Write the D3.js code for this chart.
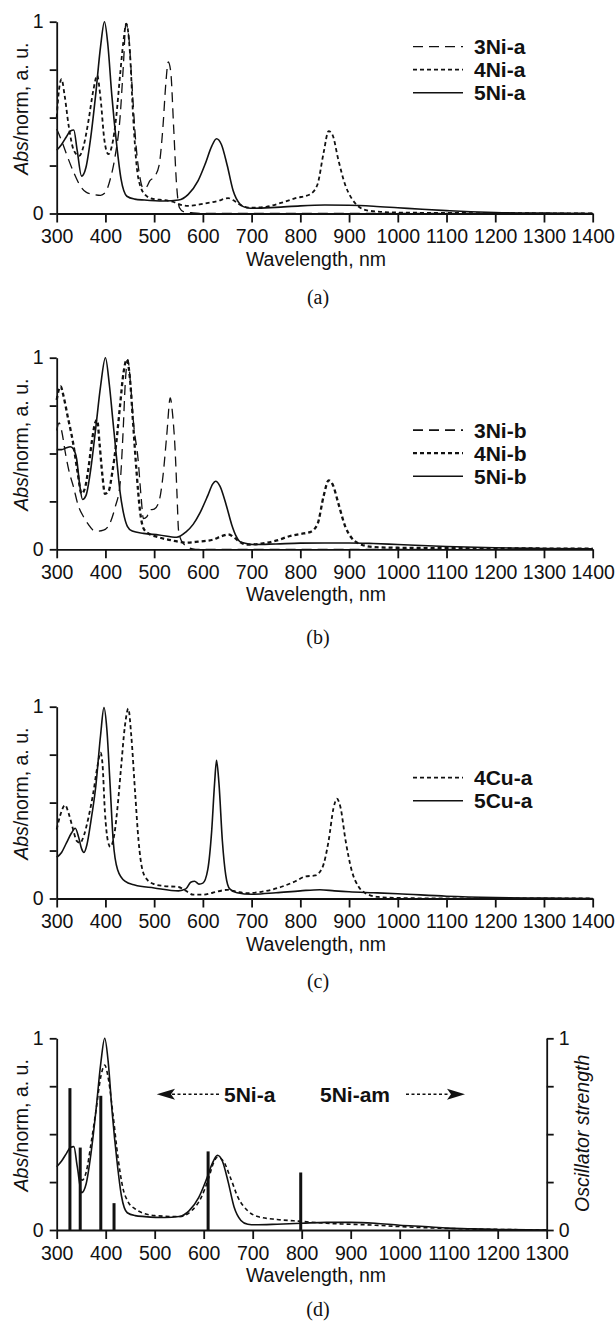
<!DOCTYPE html>
<html><head><meta charset="utf-8">
<script src="https://cdn.jsdelivr.net/npm/d3@7"></script>
<style>
html,body{margin:0;padding:0;background:#fff;}
svg text{font-family:"Liberation Sans",Arial,Helvetica,sans-serif;fill:#111;}
</style></head>
<body>
<svg id="fig" width="616" height="1324"></svg>
<script>
// ---------- DATA ----------
const xTicksWide = [300,400,500,600,700,800,900,1000,1100,1200,1300,1400];
const xTicksD = [300,400,500,600,700,800,900,1000,1100,1200,1300];
const yTicks = [0,0.25,0.5,0.75,1];
const yTickLabels = {0:"0",1:"1"};

// Panel (a)
const ni3a = [[300,0.44],[310,0.38],[320,0.31],[334,0.22],[347,0.15],[361,0.11],[375,0.10],[390,0.095],[400,0.11],[410,0.18],[420,0.30],[430,0.5],[437,0.78],[442,0.99],[448,0.92],[455,0.65],[462,0.38],[470,0.2],[478,0.13],[485,0.14],[491,0.17],[500,0.19],[510,0.25],[518,0.45],[524,0.68],[529,0.79],[534,0.74],[540,0.45],[546,0.15],[552,0.03],[560,0.01],[580,0.003],[600,0],[1400,0]];
const ni4a = [[300,0.5],[305,0.65],[310,0.70],[316,0.62],[325,0.45],[335,0.33],[346,0.30],[355,0.35],[365,0.48],[375,0.64],[383,0.72],[390,0.6],[398,0.38],[406,0.31],[414,0.36],[422,0.5],[430,0.72],[437,0.9],[443,0.99],[450,0.85],[457,0.5],[464,0.25],[472,0.14],[485,0.09],[500,0.075],[520,0.07],[540,0.06],[555,0.045],[570,0.04],[600,0.05],[630,0.065],[652,0.08],[665,0.065],[680,0.04],[700,0.03],[730,0.035],[760,0.055],[790,0.08],[820,0.10],[835,0.15],[848,0.32],[858,0.43],[866,0.41],[878,0.28],[892,0.15],[905,0.08],[920,0.035],[940,0.015],[970,0.008],[1000,0.005],[1100,0.003],[1200,0.002],[1400,0]];
const ni5a = [[300,0.33],[310,0.36],[320,0.40],[328,0.43],[335,0.435],[342,0.33],[351,0.195],[360,0.24],[370,0.40],[380,0.62],[390,0.87],[398,1.0],[405,0.88],[413,0.62],[423,0.36],[432,0.18],[444,0.09],[460,0.075],[480,0.07],[520,0.065],[550,0.07],[570,0.10],[590,0.17],[605,0.26],[618,0.35],[628,0.39],[638,0.36],[650,0.25],[662,0.12],[676,0.05],[690,0.03],[705,0.027],[750,0.032],[800,0.04],[850,0.044],[900,0.043],[950,0.038],[1000,0.03],[1050,0.022],[1100,0.015],[1150,0.009],[1200,0.005],[1300,0.002],[1400,0]];

// Panel (b)
const ni3b = [[300,0.62],[305,0.66],[310,0.62],[318,0.5],[326,0.4],[334,0.33],[344,0.23],[355,0.17],[365,0.13],[375,0.10],[385,0.095],[396,0.10],[409,0.135],[420,0.22],[430,0.34],[436,0.6],[441,0.88],[446,0.99],[451,0.88],[458,0.65],[467,0.47],[473,0.28],[478,0.16],[485,0.17],[491,0.205],[500,0.21],[510,0.25],[518,0.38],[526,0.6],[533,0.79],[538,0.7],[543,0.52],[547,0.28],[550,0.10],[555,0.05],[560,0.03],[570,0.01],[585,0],[1400,0]];
const ni4b = [[300,0.78],[304,0.83],[308,0.85],[314,0.80],[322,0.7],[334,0.55],[343,0.40],[351,0.29],[358,0.32],[365,0.42],[372,0.56],[379,0.66],[383,0.675],[388,0.55],[394,0.38],[399,0.29],[406,0.30],[414,0.40],[422,0.55],[430,0.75],[437,0.92],[444,0.99],[450,0.9],[457,0.65],[464,0.40],[471,0.2],[478,0.11],[490,0.08],[505,0.066],[539,0.045],[565,0.035],[590,0.04],[620,0.05],[640,0.07],[652,0.078],[665,0.06],[678,0.035],[690,0.024],[720,0.03],[750,0.045],[780,0.07],[800,0.08],[820,0.09],[835,0.13],[848,0.28],[858,0.36],[866,0.34],[878,0.24],[892,0.12],[905,0.06],[920,0.03],[950,0.012],[1000,0.008],[1100,0.006],[1200,0.005],[1300,0.004],[1400,0.003]];
const ni5b = [[300,0.52],[310,0.52],[320,0.53],[328,0.535],[335,0.52],[341,0.47],[347,0.34],[353,0.26],[360,0.28],[370,0.42],[380,0.63],[390,0.85],[400,1.0],[408,0.86],[415,0.68],[422,0.5],[430,0.3],[437,0.19],[445,0.12],[455,0.095],[478,0.083],[510,0.075],[546,0.063],[565,0.09],[580,0.13],[594,0.19],[610,0.28],[620,0.34],[626,0.355],[635,0.33],[648,0.23],[659,0.13],[668,0.07],[676,0.04],[690,0.03],[703,0.025],[750,0.028],[800,0.032],[850,0.033],[900,0.033],[950,0.03],[1000,0.025],[1100,0.015],[1200,0.008],[1300,0.004],[1400,0.002]];

// Panel (c)
const cu4a = [[300,0.36],[308,0.44],[317,0.487],[325,0.44],[334,0.357],[341,0.3],[348,0.29],[356,0.33],[365,0.42],[375,0.55],[383,0.68],[390,0.76],[394,0.7],[399,0.45],[405,0.3],[410,0.27],[418,0.33],[425,0.48],[432,0.68],[440,0.9],[447,0.99],[453,0.85],[461,0.55],[468,0.3],[475,0.16],[485,0.1],[500,0.075],[520,0.065],[550,0.06],[565,0.04],[580,0.02],[600,0.02],[620,0.03],[650,0.045],[670,0.035],[690,0.028],[720,0.035],[760,0.06],[790,0.09],[810,0.115],[830,0.12],[845,0.16],[858,0.3],[868,0.47],[875,0.52],[882,0.48],[893,0.3],[905,0.15],[920,0.06],[940,0.02],[960,0.008],[1000,0.003],[1100,0],[1400,0]];
const cu5a = [[300,0.215],[310,0.24],[320,0.29],[330,0.34],[338,0.366],[345,0.32],[351,0.26],[356,0.24],[362,0.28],[370,0.40],[380,0.58],[390,0.85],[397,0.995],[403,0.88],[409,0.62],[416,0.30],[425,0.15],[440,0.09],[460,0.07],[500,0.055],[550,0.04],[565,0.05],[575,0.085],[583,0.09],[592,0.075],[600,0.08],[610,0.15],[618,0.35],[624,0.6],[628,0.72],[633,0.6],[640,0.3],[647,0.12],[655,0.05],[670,0.03],[700,0.022],[750,0.03],[800,0.04],[840,0.046],[870,0.04],[900,0.035],[950,0.03],[1000,0.025],[1100,0.012],[1200,0.005],[1300,0.002],[1400,0]];

// Panel (d)
const ni5aD = [[300,0.33],[310,0.36],[320,0.40],[328,0.43],[335,0.435],[342,0.33],[351,0.195],[360,0.24],[370,0.40],[380,0.62],[390,0.87],[398,1.0],[405,0.88],[413,0.62],[423,0.36],[432,0.18],[444,0.09],[460,0.075],[480,0.07],[520,0.065],[550,0.07],[570,0.10],[590,0.17],[605,0.26],[618,0.35],[628,0.39],[638,0.36],[650,0.25],[662,0.12],[676,0.05],[690,0.03],[705,0.027],[750,0.03],[800,0.035],[850,0.04],[900,0.04],[950,0.035],[1000,0.025],[1050,0.018],[1100,0.01],[1150,0.006],[1200,0.003],[1300,0]];
const ni5amD = [[345,0.3],[352,0.26],[360,0.3],[370,0.45],[380,0.62],[390,0.8],[398,0.86],[406,0.78],[415,0.6],[425,0.38],[435,0.22],[445,0.15],[460,0.11],[480,0.085],[500,0.075],[550,0.07],[575,0.1],[595,0.17],[610,0.27],[620,0.35],[628,0.38],[640,0.36],[655,0.27],[670,0.17],[690,0.1],[710,0.07],[750,0.055],[800,0.045],[850,0.035],[900,0.03],[950,0.025],[1000,0.018],[1050,0.012],[1100,0.008],[1200,0.003],[1300,0]];
const oscWl = [327,348,390,417,609,798];
const oscF  = [0.74,0.43,0.70,0.14,0.41,0.30];

const legendA = ["3Ni-a","4Ni-a","5Ni-a"];
const legendB = ["3Ni-b","4Ni-b","5Ni-b"];
const legendC = ["4Cu-a","5Cu-a"];
const panelLabels = ["(a)","(b)","(c)","(d)"];

// ---------- STYLES ----------
const STY = {
  long:  {dash:"10,6", w:1.3},
  short: {dash:"4,3",  w:1.8},
  solid: {dash:null,   w:1.6}
};
const FS = 19.5;
const FSL = 21;

const svg = d3.select("#fig");
const X0 = 56.7;

function styleAxis(a){
  a.select(".domain").attr("stroke","#111").attr("stroke-width",1.8);
  a.selectAll(".tick line").attr("stroke","#111").attr("stroke-width",1.8);
  a.selectAll("text").attr("font-size",FS).attr("font-family","Liberation Sans, Arial, sans-serif").attr("fill","#111");
}

function drawPanel(cfg){
  const g = svg.append("g");
  const x = d3.scaleLinear().domain([300,cfg.xmax]).range([X0,cfg.right]);
  const y = d3.scaleLinear().domain([0,1]).range([cfg.bottom,cfg.top]);
  const line = d3.line().x(d=>x(d[0])).y(d=>y(d[1])).curve(d3.curveMonotoneX);

  if(cfg.bars){
    const yr = d3.scaleLinear().domain([0,1]).range([cfg.bottom,cfg.top]);
    g.selectAll("rect.osc").data(cfg.bars).enter().append("rect")
      .attr("x",d=>x(d[0])-1.5).attr("width",3)
      .attr("y",d=>yr(d[1])).attr("height",d=>cfg.bottom-yr(d[1]))
      .attr("fill","#111");
  }

  cfg.series.forEach(s=>{
    const st = STY[s.style];
    g.append("path").datum(s.data).attr("d",line)
      .attr("fill","none").attr("stroke","#111")
      .attr("stroke-width",s.w||st.w)
      .attr("stroke-dasharray",st.dash)
      .attr("stroke-linejoin","round");
  });

  const xa = g.append("g").attr("transform",`translate(0,${cfg.bottom})`)
    .call(d3.axisBottom(x).tickValues(cfg.ticks).tickSize(9).tickSizeOuter(0).tickPadding(7).tickFormat(d3.format("d")));
  styleAxis(xa);

  const ya = g.append("g").attr("transform",`translate(${X0},0)`)
    .call(d3.axisLeft(y).tickValues(yTicks).tickSize(7).tickSizeOuter(0).tickPadding(6).tickFormat(d=>yTickLabels[d]||""));
  styleAxis(ya);

  if(cfg.rightAxis){
    const yr = d3.scaleLinear().domain([0,1]).range([cfg.bottom,cfg.top]);
    const ra = g.append("g").attr("transform",`translate(${cfg.right},0)`)
      .call(d3.axisRight(yr).tickValues(yTicks).tickSize(7).tickSizeOuter(0).tickPadding(5).tickFormat(d=>yTickLabels[d]||""));
    styleAxis(ra);
    g.append("text").attr("transform",`translate(589,${cfg.top+95}) rotate(-90)`)
      .attr("text-anchor","middle").attr("font-size",FS).attr("font-style","italic").text("Oscillator strength");
  }

  const yl = g.append("text").attr("transform",`translate(28,${cfg.top+87}) rotate(-90)`)
    .attr("text-anchor","middle").attr("font-size",FS);
  yl.append("tspan").attr("font-style","italic").text("Abs");
  yl.append("tspan").text("/norm, a. u.");

  g.append("text").attr("x",316).attr("y",cfg.bottom+52).attr("text-anchor","middle")
    .attr("font-size",FS).text("Wavelength, nm");
  g.append("text").attr("x",318).attr("y",cfg.bottom+cfg.labelOff).attr("text-anchor","middle")
    .attr("font-size",20).style("font-family","'Liberation Serif','Times New Roman',serif").text(cfg.label);

  if(cfg.legend){
    cfg.legend.forEach((L,i)=>{
      const st = STY[L.style];
      const ly = cfg.top + cfg.legendTop + i*23;
      g.append("line").attr("x1",413).attr("x2",463).attr("y1",ly).attr("y2",ly)
        .attr("stroke","#111").attr("stroke-width",L.w||st.w).attr("stroke-dasharray",st.dash);
      g.append("text").attr("x",474).attr("y",ly+7.5).attr("font-size",FSL).attr("font-weight","bold").text(L.name);
    });
  }
  return {g,x,y};
}

drawPanel({top:21.7,bottom:213.5,xmax:1400,right:592.7,ticks:xTicksWide,label:panelLabels[0],labelOff:90,
  series:[{data:ni3a,style:"long"},{data:ni4a,style:"short"},{data:ni5a,style:"solid"}],
  legend:[{name:legendA[0],style:"long"},{name:legendA[1],style:"short"},{name:legendA[2],style:"solid"}],legendTop:25});

drawPanel({top:357.7,bottom:549.3,xmax:1400,right:592.7,ticks:xTicksWide,label:panelLabels[1],labelOff:95,
  series:[{data:ni3b,style:"long"},{data:ni4b,style:"short",w:2.3},{data:ni5b,style:"solid"}],
  legend:[{name:legendB[0],style:"long",w:1.8},{name:legendB[1],style:"short",w:2.3},{name:legendB[2],style:"solid"}],legendTop:72.5});

drawPanel({top:706.7,bottom:898.5,xmax:1400,right:592.7,ticks:xTicksWide,label:panelLabels[2],labelOff:89,
  series:[{data:cu4a,style:"short"},{data:cu5a,style:"solid"}],
  legend:[{name:legendC[0],style:"short"},{name:legendC[1],style:"solid"}],legendTop:71});

const pd = drawPanel({top:1038.3,bottom:1230,xmax:1300,right:546.7,ticks:xTicksD,label:panelLabels[3],labelOff:86,
  series:[{data:ni5amD,style:"short",w:1.6},{data:ni5aD,style:"solid"}],
  bars:oscWl.map((w,i)=>[w,oscF[i]]), rightAxis:true});

(function(){
  const g = pd.g, ay = 1094.3;
  g.append("line").attr("x1",172).attr("x2",219).attr("y1",ay).attr("y2",ay)
    .attr("stroke","#111").attr("stroke-width",1.6).attr("stroke-dasharray","3,2.5");
  g.append("path").attr("d",`M156.7,${ay} L175,${ay-5.5} L171,${ay} L175,${ay+5.5} Z`).attr("fill","#111");
  g.append("text").attr("x",224).attr("y",ay+7.5).attr("font-size",FSL).attr("font-weight","bold").text("5Ni-a");
  g.append("text").attr("x",320).attr("y",ay+7.5).attr("font-size",FSL).attr("font-weight","bold").text("5Ni-am");
  g.append("line").attr("x1",406).attr("x2",450).attr("y1",ay).attr("y2",ay)
    .attr("stroke","#111").attr("stroke-width",1.6).attr("stroke-dasharray","3,2.5");
  g.append("path").attr("d",`M465,${ay} L447,${ay-5.5} L451,${ay} L447,${ay+5.5} Z`).attr("fill","#111");
})();
</script>
</body></html>
